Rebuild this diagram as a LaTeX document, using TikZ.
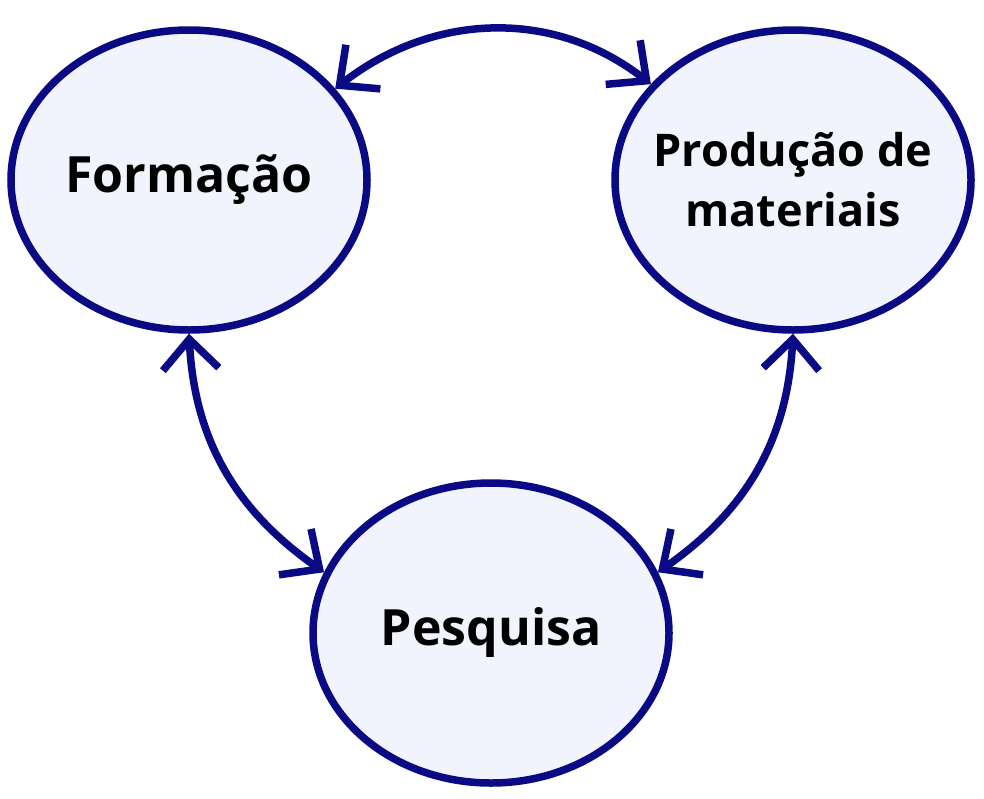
\documentclass[tikz,border=0pt]{standalone}
\usepackage{fontspec}
\setmainfont{Open Sans}
\usetikzlibrary{arrows.meta,shapes.geometric}
\definecolor{navy}{HTML}{0A0A85}
\definecolor{fillc}{HTML}{F1F4FD}
\begin{document}
\begin{tikzpicture}[x=1pt,y=-1pt,
  blob/.style={ellipse,draw=navy,fill=fillc,line width=7.5pt,minimum width=356pt,minimum height=300pt,inner sep=0pt,align=center,font=\bfseries\fontsize{50}{58}\selectfont},
  link/.style={draw=navy,line width=7.5pt,{Straight Barb[length=30pt,width=56pt]}-{Straight Barb[length=30pt,width=56pt]}}]
\useasboundingbox (0,0) rectangle (984,798);
\node[blob] (F) at (189,180) {Formação};
\node[blob,inner sep=-30pt,font=\bfseries\fontsize{45}{60}\selectfont] (P) at (793,180) {Produção de\\materiais};
\node[blob] (Q) at (491,633) {Pesquisa};
\draw[link] (F.32) to[out=38,in=142] (P.146);
\draw[link] (F.270) to[out=-87,in=145] (Q.160);
\draw[link] (P.270) to[out=-93,in=35] (Q.20);
\end{tikzpicture}
\end{document}
